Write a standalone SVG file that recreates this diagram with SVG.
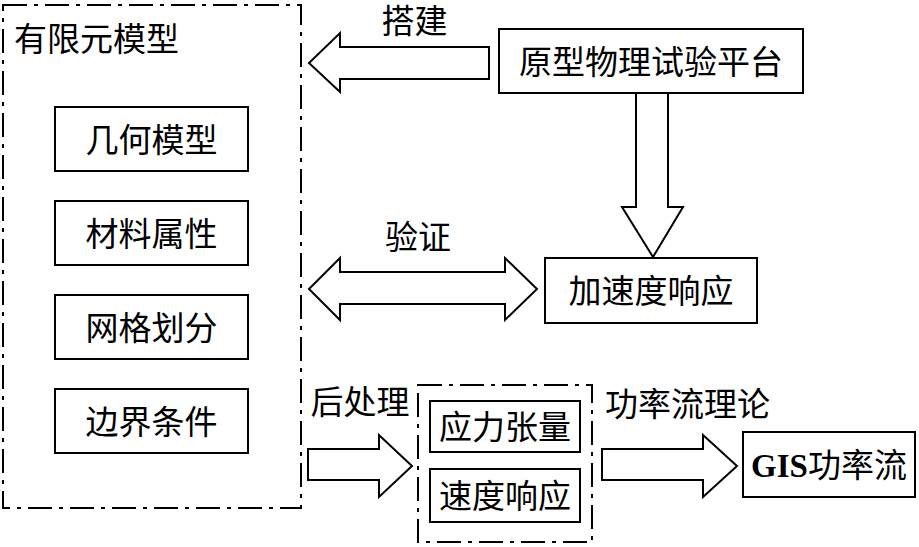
<svg xmlns="http://www.w3.org/2000/svg" width="919" height="547" viewBox="0 0 919 547">
<style>
.box{fill:#fff;stroke:#000;stroke-width:2}
.dash{fill:none;stroke:#000;stroke-width:2;stroke-dasharray:24 7 4 7}
.arr{fill:#fff;stroke:#000;stroke-width:2;stroke-linejoin:miter}
.t{font-family:"Noto Sans CJK SC",sans-serif;font-size:33px;fill:#000}
.m{text-anchor:middle}
</style>
<rect width="919" height="547" fill="#fff"/>
<g id="fem">
<rect class="dash" x="3" y="5" width="298" height="503"/>
<text class="t" x="14" y="51">有限元模型</text>
</g>
<g id="geom"><rect class="box" x="55" y="107" width="193" height="64"/><text class="t m" x="151.5" y="152">几何模型</text></g>
<g id="material"><rect class="box" x="55" y="201" width="193" height="64"/><text class="t m" x="151.5" y="246">材料属性</text></g>
<g id="mesh"><rect class="box" x="55" y="295" width="193" height="64"/><text class="t m" x="151.5" y="340">网格划分</text></g>
<g id="boundary"><rect class="box" x="55" y="389" width="193" height="64"/><text class="t m" x="151.5" y="434">边界条件</text></g>
<g id="platform"><rect class="box" x="499" y="29" width="304" height="64"/><text class="t m" x="651" y="74">原型物理试验平台</text></g>
<g id="accel"><rect class="box" x="545" y="258" width="212" height="65"/><text class="t m" x="651" y="303">加速度响应</text></g>
<g id="post">
<rect class="dash" x="418" y="385" width="174" height="157"/>
</g>
<g id="stress"><rect class="box" x="430" y="401" width="150" height="51"/><text class="t m" x="505" y="439">应力张量</text></g>
<g id="velocity"><rect class="box" x="430" y="469" width="150" height="53"/><text class="t m" x="505" y="508">速度响应</text></g>
<g id="gis"><rect class="box" x="743" y="432" width="172" height="65"/><text class="t m" x="829" y="477"><tspan font-family="Liberation Serif" font-weight="bold">GIS</tspan>功率流</text></g>
<g id="connectors">
<polygon class="arr" points="309,63 340,33 340,47 489,47 489,79 340,79 340,92"/>
<text class="t m" x="414.5" y="33">搭建</text>
<polygon class="arr" points="636,93 668,93 668,207 683,207 653,257 622,207 636,207"/>
<polygon class="arr" points="309,289 340,258 340,272 505,272 505,258 537,289 505,320 505,304 340,304 340,320"/>
<text class="t m" x="418" y="249">验证</text>
<polygon class="arr" points="308,449 379,449 379,435 412,466 379,497 379,480 308,480"/>
<text class="t m" x="360" y="414">后处理</text>
<polygon class="arr" points="602,449 703,449 703,435 737,466 703,497 703,480 602,480"/>
<text class="t m" x="687.5" y="416">功率流理论</text>
</g>
</svg>
